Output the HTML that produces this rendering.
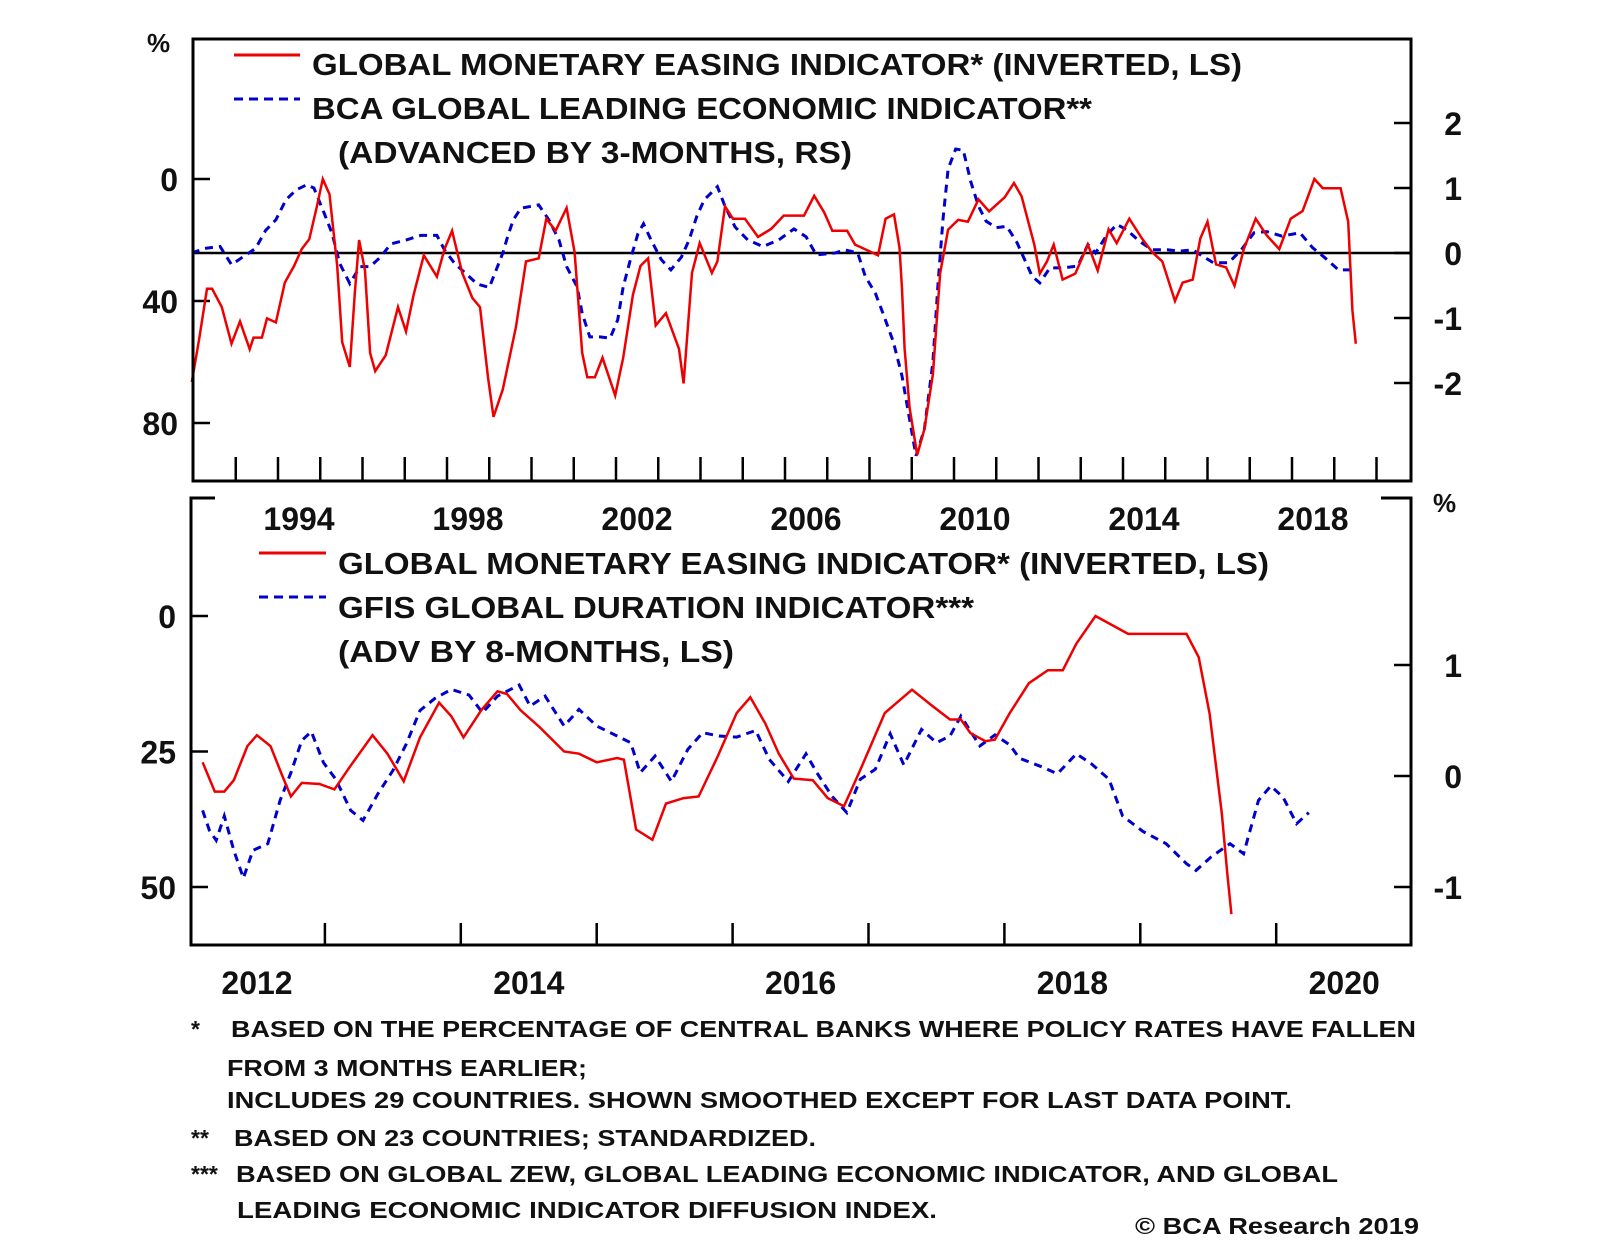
<!DOCTYPE html>
<html><head><meta charset="utf-8"><style>
html,body{margin:0;padding:0;background:#fff}
svg{display:block}
text{font-family:"Liberation Sans",Arial,sans-serif;font-weight:bold;fill:#111}
</style></head><body>
<svg id="chart" width="1600" height="1243" viewBox="0 0 1600 1243" xmlns="http://www.w3.org/2000/svg">
<rect x="0" y="0" width="1600" height="1243" fill="#fff"/>
<g id="top"></g>
<g id="bot"></g>
<g>
<line x1="234" y1="55" x2="300" y2="55" stroke="#e00" stroke-width="3"/>
<text x="312" y="75" font-size="31" textLength="930" lengthAdjust="spacingAndGlyphs">GLOBAL MONETARY EASING INDICATOR* (INVERTED, LS)</text>
<line x1="234" y1="99" x2="300" y2="99" stroke="#00c" stroke-width="3" stroke-dasharray="9 6"/>
<text x="312" y="119" font-size="31" textLength="780" lengthAdjust="spacingAndGlyphs">BCA GLOBAL LEADING ECONOMIC INDICATOR**</text>
<text x="338" y="163" font-size="31" textLength="514" lengthAdjust="spacingAndGlyphs">(ADVANCED BY 3-MONTHS, RS)</text>
</g>
<g>
<line x1="259" y1="553" x2="326" y2="553" stroke="#e00" stroke-width="3"/>
<text x="338" y="574" font-size="31" textLength="931" lengthAdjust="spacingAndGlyphs">GLOBAL MONETARY EASING INDICATOR* (INVERTED, LS)</text>
<line x1="259" y1="597" x2="326" y2="597" stroke="#00c" stroke-width="3" stroke-dasharray="9 6"/>
<text x="338" y="618" font-size="31" textLength="636" lengthAdjust="spacingAndGlyphs">GFIS GLOBAL DURATION INDICATOR***</text>
<text x="338" y="662" font-size="31" textLength="396" lengthAdjust="spacingAndGlyphs">(ADV BY 8-MONTHS, LS)</text>
</g>
<text x="147" y="52" font-size="26">%</text>
<text x="1433" y="512" font-size="26">%</text>
<g font-size="23">
<text x="191" y="1037">*</text>
<text x="231" y="1037" textLength="1185" lengthAdjust="spacingAndGlyphs">BASED ON THE PERCENTAGE OF CENTRAL BANKS WHERE POLICY RATES HAVE FALLEN</text>
<text x="227" y="1076" textLength="360" lengthAdjust="spacingAndGlyphs">FROM 3 MONTHS EARLIER;</text>
<text x="227" y="1108" textLength="1065" lengthAdjust="spacingAndGlyphs">INCLUDES 29 COUNTRIES. SHOWN SMOOTHED EXCEPT FOR LAST DATA POINT.</text>
<text x="191" y="1146">**</text>
<text x="234" y="1146" textLength="582" lengthAdjust="spacingAndGlyphs">BASED ON 23 COUNTRIES; STANDARDIZED.</text>
<text x="191" y="1182">***</text>
<text x="236" y="1182" textLength="1102" lengthAdjust="spacingAndGlyphs">BASED ON GLOBAL ZEW, GLOBAL LEADING ECONOMIC INDICATOR, AND GLOBAL</text>
<text x="237" y="1218" textLength="700" lengthAdjust="spacingAndGlyphs">LEADING ECONOMIC INDICATOR DIFFUSION INDEX.</text>
<text x="1135" y="1234" textLength="284" lengthAdjust="spacingAndGlyphs">© BCA Research 2019</text>
</g>
</svg>
<script>
const topRed = [[1991.96,66.6],[1992.14,52],[1992.32,36],[1992.44,36],[1992.67,42],[1992.9,54],[1993.1,46.7],[1993.33,55.8],[1993.42,52],[1993.62,52],[1993.74,45.7],[1993.95,47],[1994.16,34],[1994.38,28.5],[1994.56,23],[1994.74,19.7],[1994.92,9],[1995.06,0],[1995.22,5],[1995.4,28.5],[1995.52,53.5],[1995.7,61.6],[1995.82,37],[1995.92,20],[1996.06,30],[1996.18,57],[1996.3,63],[1996.55,57.8],[1996.84,42],[1997.03,50],[1997.21,38],[1997.45,25],[1997.76,32],[1997.94,23],[1998.12,17],[1998.36,30.8],[1998.6,39],[1998.78,42],[1998.97,65],[1999.1,78],[1999.32,69],[1999.63,48.6],[1999.87,27],[2000.17,26],[2000.35,13],[2000.57,17],[2000.83,9.5],[2001.02,24],[2001.2,57],[2001.32,65],[2001.5,65],[2001.68,58.6],[2001.98,71],[2002.17,58.6],[2002.4,38],[2002.58,28.5],[2002.76,26],[2002.94,48],[2003.18,44],[2003.49,55.7],[2003.6,67],[2003.8,30.8],[2003.98,21],[2004.27,30.8],[2004.4,27],[2004.58,9],[2004.77,13],[2005.05,13],[2005.36,19],[2005.67,16.4],[2005.97,12],[2006.45,12],[2006.69,5.5],[2006.93,11],[2007.12,17],[2007.47,17],[2007.66,21.5],[2007.89,23],[2008.2,25],[2008.38,13],[2008.58,11.6],[2008.71,22.5],[2008.77,36],[2008.83,55.6],[2008.95,75],[2009.13,90.5],[2009.3,82],[2009.5,64],[2009.67,31],[2009.86,16.6],[2010.1,13.4],[2010.33,14],[2010.58,6.7],[2010.83,10.6],[2011.2,6],[2011.42,1.3],[2011.6,5.7],[2011.9,21.5],[2012.03,31],[2012.2,27],[2012.36,21.5],[2012.57,33],[2012.87,31],[2013.17,21.5],[2013.4,30],[2013.66,16.5],[2013.85,21],[2014.15,13],[2014.45,19.5],[2014.69,24],[2014.93,27],[2015.23,40],[2015.41,34],[2015.65,33],[2015.83,19.5],[2016.0,14],[2016.2,28],[2016.44,29],[2016.64,35],[2016.86,23],[2017.14,13],[2017.4,18.5],[2017.7,23],[2017.97,13],[2018.25,10.5],[2018.53,0],[2018.73,3],[2019.15,3],[2019.33,14],[2019.43,43],[2019.51,54]];
const topBlue = [[1991.96,0],[1992.26,0.07],[1992.63,0.1],[1992.9,-0.18],[1993.17,-0.06],[1993.47,0.07],[1993.71,0.35],[1993.95,0.51],[1994.19,0.82],[1994.43,0.97],[1994.68,1.05],[1994.85,1.0],[1995.1,0.6],[1995.28,0.3],[1995.46,-0.16],[1995.7,-0.47],[1995.94,-0.21],[1996.18,-0.21],[1996.43,-0.06],[1996.67,0.14],[1997.03,0.2],[1997.38,0.27],[1997.76,0.27],[1997.94,0.05],[1998.18,-0.16],[1998.42,-0.3],[1998.72,-0.48],[1999.0,-0.53],[1999.14,-0.3],[1999.32,0],[1999.44,0.26],[1999.57,0.51],[1999.75,0.69],[2000.17,0.74],[2000.41,0.51],[2000.65,0.2],[2000.83,-0.21],[2001.08,-0.52],[2001.2,-0.93],[2001.38,-1.29],[2001.62,-1.29],[2001.86,-1.31],[2002.04,-1.03],[2002.17,-0.52],[2002.34,-0.1],[2002.52,0.3],[2002.65,0.45],[2002.83,0.2],[2003.07,-0.1],[2003.3,-0.26],[2003.55,-0.06],[2003.73,0.2],[2003.91,0.56],[2004.09,0.82],[2004.4,1.02],[2004.58,0.72],[2004.82,0.4],[2005.12,0.2],[2005.48,0.1],[2005.85,0.2],[2006.21,0.37],[2006.5,0.25],[2006.74,-0.03],[2007.18,0],[2007.42,0.05],[2007.72,0],[2007.9,-0.36],[2008.14,-0.62],[2008.32,-0.93],[2008.56,-1.36],[2008.77,-1.89],[2008.95,-2.56],[2009.1,-3.12],[2009.3,-2.71],[2009.5,-1.68],[2009.62,-0.5],[2009.74,0.52],[2009.86,1.29],[2010.04,1.6],[2010.22,1.58],[2010.4,1.09],[2010.58,0.72],[2010.76,0.49],[2011.0,0.39],[2011.25,0.41],[2011.49,0.16],[2011.67,-0.1],[2011.85,-0.36],[2012.03,-0.46],[2012.27,-0.23],[2012.57,-0.23],[2012.93,-0.2],[2013.17,0.13],[2013.35,0],[2013.6,0.26],[2013.85,0.44],[2014.08,0.36],[2014.39,0.18],[2014.69,0.05],[2015.05,0.05],[2015.35,0.03],[2015.65,0.05],[2015.89,-0.05],[2016.14,-0.15],[2016.5,-0.15],[2016.8,0.05],[2017.1,0.31],[2017.4,0.33],[2017.76,0.26],[2018.19,0.31],[2018.49,0.08],[2018.79,-0.08],[2019.1,-0.26],[2019.46,-0.26]];
const botRed = [[2012.1,27],[2012.19,32.4],[2012.26,32.4],[2012.33,30.3],[2012.43,24],[2012.5,22],[2012.6,24],[2012.69,29.7],[2012.75,33.3],[2012.83,30.8],[2012.96,31],[2013.07,32],[2013.19,27.6],[2013.35,22],[2013.46,25.4],[2013.58,30.5],[2013.7,22.4],[2013.84,16],[2013.93,18.5],[2014.02,22.4],[2014.15,17.4],[2014.27,13.9],[2014.34,14.4],[2014.44,17.4],[2014.58,20.5],[2014.76,25],[2014.87,25.4],[2015.0,27],[2015.15,26.2],[2015.2,26.5],[2015.29,39.4],[2015.41,41.3],[2015.51,34.6],[2015.64,33.6],[2015.75,33.3],[2015.89,25.9],[2016.03,17.9],[2016.13,15],[2016.24,19.8],[2016.34,25.4],[2016.45,30],[2016.59,30.3],[2016.7,33.6],[2016.82,35.1],[2016.94,28.4],[2017.12,17.9],[2017.32,13.6],[2017.47,16.6],[2017.6,19.1],[2017.68,19.1],[2017.75,21.6],[2017.86,23.1],[2017.93,22.8],[2018.04,17.9],[2018.18,12.4],[2018.32,10],[2018.43,10],[2018.53,5.1],[2018.67,0],[2018.91,3.3],[2019.34,3.3],[2019.43,7.6],[2019.51,18],[2019.6,36.4],[2019.64,47.5],[2019.67,55]];
const botBlue = [[2012.1,-0.31],[2012.15,-0.49],[2012.2,-0.58],[2012.26,-0.36],[2012.33,-0.67],[2012.4,-0.92],[2012.47,-0.67],[2012.58,-0.61],[2012.67,-0.22],[2012.75,0.03],[2012.83,0.32],[2012.9,0.4],[2012.99,0.12],[2013.08,-0.03],[2013.19,-0.31],[2013.28,-0.4],[2013.39,-0.16],[2013.5,0.05],[2013.6,0.29],[2013.7,0.59],[2013.81,0.7],[2013.93,0.78],[2014.06,0.73],[2014.16,0.57],[2014.27,0.72],[2014.43,0.82],[2014.51,0.63],[2014.62,0.72],[2014.76,0.45],[2014.87,0.6],[2015.0,0.45],[2015.15,0.36],[2015.25,0.3],[2015.32,0.03],[2015.43,0.18],[2015.55,-0.05],[2015.67,0.24],[2015.78,0.39],[2015.9,0.36],[2016.03,0.35],[2016.17,0.41],[2016.27,0.15],[2016.41,-0.05],[2016.54,0.2],[2016.62,0.03],[2016.73,-0.18],[2016.84,-0.33],[2016.94,-0.03],[2017.05,0.06],[2017.16,0.38],[2017.26,0.1],[2017.39,0.42],[2017.5,0.3],[2017.6,0.36],[2017.68,0.54],[2017.82,0.27],[2017.93,0.37],[2018.04,0.28],[2018.11,0.16],[2018.28,0.08],[2018.39,0.02],[2018.53,0.2],[2018.64,0.11],[2018.77,-0.03],[2018.87,-0.36],[2019.02,-0.5],[2019.19,-0.61],[2019.34,-0.79],[2019.41,-0.85],[2019.52,-0.73],[2019.66,-0.61],[2019.76,-0.7],[2019.87,-0.22],[2019.96,-0.09],[2020.05,-0.19],[2020.15,-0.43],[2020.24,-0.33]];
const topLeftTicks = [0,40,80];
const topRightTicks = [2,1,0,-1,-2];
const topYearLabels = [1994,1998,2002,2006,2010,2014,2018];
const botLeftTicks = [0,25,50];
const botRightTicks = [1,0,-1];
const botYearLabels = [2012,2014,2016,2018,2020];

const NS="http://www.w3.org/2000/svg";
function mk(parent,tag,attrs){const e=document.createElementNS(NS,tag);for(const k in attrs)e.setAttribute(k,attrs[k]);parent.appendChild(e);return e;}
// top scales
const tx=t=>278+(t-1994)*42.25;
const tyL=v=>179+v*3.05;
const tyR=v=>253-v*65;
// bottom scales
const bx=t=>189+(t-2012)*135.9;
const byL=v=>616+v*5.42;
const byR=v=>776-v*111;
const T=document.getElementById('top'), B=document.getElementById('bot');
function path(arr,fx,fy){return arr.map((p,i)=>(i?'L':'M')+fx(p[0]).toFixed(1)+' '+fy(p[1]).toFixed(1)).join(' ');}

// top panel
let e;
e=mk(T,'line',{x1:193,y1:253,x2:1411,y2:253,stroke:'#000','stroke-width':2.5});


for(let y=1993;y<=2020;y++){e=mk(T,'line',{x1:tx(y),y1:457,x2:tx(y),y2:481,stroke:'#000','stroke-width':2.5});

}
topLeftTicks.forEach(v=>{e=mk(T,'line',{x1:193,y1:tyL(v),x2:210,y2:tyL(v),stroke:'#000','stroke-width':2.5});


e=mk(T,'text',{x:178,y:tyL(v)+12,'font-size':32,'text-anchor':'end'});e.textContent=v;

});
topRightTicks.forEach(v=>{e=mk(T,'line',{x1:1394,y1:tyR(v),x2:1411,y2:tyR(v),stroke:'#000','stroke-width':2.5});


e=mk(T,'text',{x:1462,y:tyR(v)+12,'font-size':32,'text-anchor':'end'});e.textContent=v;

});
topYearLabels.forEach(y=>{e=mk(T,'text',{x:tx(y)+21,y:530,'font-size':32,'text-anchor':'middle'});e.textContent=y;

});
e=mk(T,'path',{d:path(topBlue,tx,tyR),fill:'none',stroke:'#00c','stroke-width':3,'stroke-dasharray':'8 6'});


e=mk(T,'path',{d:path(topRed,tx,tyL),fill:'none',stroke:'#e00','stroke-width':2.5});


e=mk(T,'rect',{x:193,y:39,width:1218,height:442,fill:'none',stroke:'#000','stroke-width':3});



// bottom panel
for(let y=2013;y<=2020;y++){e=mk(B,'line',{x1:bx(y),y1:923,x2:bx(y),y2:945,stroke:'#000','stroke-width':2.5});

}
botLeftTicks.forEach(v=>{e=mk(B,'line',{x1:191,y1:byL(v),x2:208,y2:byL(v),stroke:'#000','stroke-width':2.5});


e=mk(B,'text',{x:176,y:byL(v)+12,'font-size':32,'text-anchor':'end'});e.textContent=v;

});
botRightTicks.forEach(v=>{e=mk(B,'line',{x1:1394,y1:byR(v),x2:1411,y2:byR(v),stroke:'#000','stroke-width':2.5});


e=mk(B,'text',{x:1462,y:byR(v)+12,'font-size':32,'text-anchor':'end'});e.textContent=v;

});
botYearLabels.forEach(y=>{e=mk(B,'text',{x:bx(y)+68,y:994,'font-size':32,'text-anchor':'middle'});e.textContent=y;

});
e=mk(B,'path',{d:path(botBlue,bx,byR),fill:'none',stroke:'#00c','stroke-width':3,'stroke-dasharray':'8 6'});


e=mk(B,'path',{d:path(botRed,bx,byL),fill:'none',stroke:'#e00','stroke-width':2.5});


e=mk(B,'path',{d:'M215 498 L191 498 L191 945 L1411 945 L1411 498 L1381 498',fill:'none',stroke:'#000','stroke-width':3});


</script>
</body></html>
